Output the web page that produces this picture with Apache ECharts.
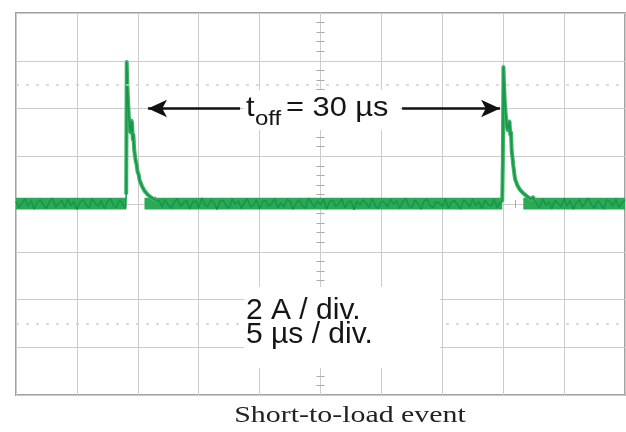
<!DOCTYPE html>
<html><head><meta charset="utf-8">
<script src="https://cdn.jsdelivr.net/npm/echarts@6/dist/echarts.min.js"></script>
<style>html,body{margin:0;padding:0;background:#fff}#c{width:626px;height:432px}</style>
</head><body><div id="c"></div>
<script>
// Time axis centred on the screen: 5 µs/div, 10 divisions
const timeRange = [-25, 25];
const timeDiv = 5;
// Current axis: 2 A/div, 8 divisions
const currentRange = [-8, 8];
const currentDiv = 2;
const sampleStep = 0.25;
// envelope of the baseline noise band (A)
const noiseLow = -0.23;
const noiseHigh = 0.26;
// level at which a spike's decay merges into the noise band (A)
const bandMergeLevel = 0.6;

// baseline noise before first pulse (A)
const base1Start = -25;
const base1 = [0.10,-0.16,0.05,0.21,-0.09,0.14,-0.22,0.07,0.18,-0.04,-0.19,0.11,0.24,-0.13,0.02,0.16,-0.15,0.20,-0.07,0.12,-0.23,0.06,0.19,-0.03,-0.17,0.22,0.04,-0.11,0.15,-0.20,0.09,0.23,-0.06,-0.14,0.17,0.01,-0.18];

// first current spike [µs, A]
const pulse1 = [[-15.95,0.4],[-15.91,5.95],[-15.86,5.0],[-15.80,4.3],[-15.73,3.6],[-15.66,3.2],[-15.59,3.0],[-15.53,3.5],[-15.47,3.4],[-15.41,2.7],[-15.36,2.9],[-15.30,2.3],[-15.24,2.05],[-15.17,1.8],[-15.10,1.65],[-15.02,1.35],[-14.94,1.25],[-14.85,1.0],[-14.76,0.95],[-14.66,0.75],[-14.56,0.72],[-14.45,0.55],[-14.33,0.58],[-14.20,0.40],[-14.07,0.46],[-13.93,0.28],[-13.78,0.36],[-13.62,0.18],[-13.46,0.26]];

// baseline noise between pulses (A)
const base2Start = -13.25;
const base2 = [0.14,-0.12,0.20,-0.05,-0.18,0.09,0.22,-0.10,0.03,0.17,
-0.21,0.08,0.13,-0.15,0.25,-0.02,-0.12,0.19,0.05,-0.23,
0.11,0.16,-0.08,-0.17,0.21,0.00,0.14,-0.19,0.07,0.23,
-0.11,-0.04,0.18,-0.20,0.10,0.15,-0.09,0.02,0.22,-0.16,
0.06,-0.13,0.19,0.12,-0.22,0.04,0.17,-0.07,-0.18,0.24,
0.08,-0.14,0.13,-0.03,0.20,-0.21,0.10,0.16,-0.10,0.01,
0.21,-0.17,0.07,0.14,-0.24,0.11,-0.05,0.18,0.03,-0.15,
0.23,-0.09,-0.19,0.12,0.06,-0.12,0.20,-0.01,0.15,-0.20,
0.09,0.24,-0.08,-0.14,0.17,0.02,-0.22,0.13,0.19,-0.06,
-0.16,0.10,0.05,-0.11,0.22,-0.18,0.08,0.15,-0.03,-0.21,
0.18,0.04,-0.13,0.21,-0.07,0.11,-0.19,0.16,0.00,-0.10,
0.20,-0.15,0.07];

// second current spike [µs, A]
const pulse2 = [[14.92,0.1],[14.97,1.8],[15.02,5.74],[15.07,5.0],[15.13,4.3],[15.20,3.8],[15.28,3.3],[15.36,3.1],[15.44,3.35],[15.52,3.45],[15.58,2.9],[15.64,3.0],[15.70,2.2],[15.76,1.95],[15.83,1.6],[15.90,1.55],[15.97,1.05],[16.05,1.1],[16.15,0.8],[16.25,0.85],[16.37,0.6],[16.50,0.62],[16.65,0.45],[16.80,0.5],[16.95,0.32],[17.10,0.38],[17.28,0.2],[17.45,0.28],[17.60,0.12]];

// baseline noise after second pulse (A)
const base3Start = 17.75;
const base3 = [0.12,-0.17,0.21,-0.06,0.09,-0.20,0.16,0.03,-0.12,0.23,
-0.09,0.14,-0.22,0.05,0.19,-0.14,0.08,0.24,-0.04,-0.18,
0.13,0.01,-0.21,0.17,0.10,-0.08,0.22,-0.15,0.06,0.15];

// dotted reference levels (A)
const markerLevels = [5, -5];
// t_off arrows: [tail µs, tip µs] at level (A)
const arrowLevel = 4;
const arrowLeft = [-6.6, -14.16];
const arrowRight = [6.7, 14.74];

const labelToff = {t: 't', sub: 'off', rest: '= 30 µs'};
const scaleLines = ['2 A / div.', '5 µs / div.'];
const caption = 'Short-to-load event';

function seg(start, vals) { return vals.map((v, i) => [start + i * sampleStep, v]); }
const s1 = seg(base1Start, base1), s2 = seg(base2Start, base2), s3 = seg(base3Start, base3);
const trace = [].concat(s1, pulse1, s2, pulse2, s3);
// spikes alone, for a slightly thicker under-stroke
const spikes = [].concat(pulse1, [[0, null]], pulse2);
function mergeTime(p) {
  const peak = p.reduce((b, d, i) => d[1] > p[b][1] ? i : b, 0);
  for (let i = peak; i < p.length; i++) if (p[i][1] < bandMergeLevel) return p[i][0];
  return p[p.length - 1][0];
}
// noise band regions follow the baseline segments
const bandAreas = [
  [s1[0][0], pulse1[0][0]],
  [mergeTime(pulse1), pulse2[0][0]],
  [mergeTime(pulse2), s3[s3.length - 1][0]]
].map(r => [{xAxis: r[0], yAxis: noiseLow}, {xAxis: r[1], yAxis: noiseHigh}]);

const gridCol = '#cccccc';
const tickCol = '#a9a9a9';
function xAx(pos, split) {
  return {type: 'value', min: timeRange[0], max: timeRange[1], interval: timeDiv, position: pos,
    axisLabel: {show: false},
    axisLine: {show: true, onZero: true, lineStyle: {color: gridCol, width: 1}},
    axisTick: {show: false},
    minorTick: {show: true, splitNumber: 5, length: 4, lineStyle: {color: tickCol, width: 1}},
    splitLine: {show: split, lineStyle: {color: gridCol, width: 1}},
    minorSplitLine: {show: false}};
}
function yAx(pos, split) {
  return {type: 'value', min: currentRange[0], max: currentRange[1], interval: currentDiv, position: pos,
    axisLabel: {show: false},
    axisLine: {show: true, onZero: true, lineStyle: {color: gridCol, width: 1}},
    axisTick: {show: false},
    minorTick: {show: true, splitNumber: 5, length: 4, lineStyle: {color: tickCol, width: 1}},
    splitLine: {show: split, lineStyle: {color: gridCol, width: 1}},
    minorSplitLine: {show: false}};
}

const chart = echarts.init(document.getElementById('c'), null, {renderer: 'canvas'});
const txtFont = '"Liberation Sans", Arial, sans-serif';
const txtCol = '#151515';
const lineBase = {type: 'line', symbol: 'none', showSymbol: false, sampling: null, connectNulls: false, silent: true};
chart.setOption({
  animation: false,
  backgroundColor: '#ffffff',
  grid: {left: 16, top: 13, right: 1, bottom: 37, show: true, borderColor: '#a2a2a2', borderWidth: 2, backgroundColor: '#ffffff'},
  xAxis: [xAx('bottom', true), xAx('top', false)],
  yAxis: [yAx('left', true), yAx('right', false)],
  series: [
    Object.assign({}, lineBase, {name: 'spikes', data: spikes, z: 2, lineStyle: {color: '#3bb466', width: 4, join: 'round'}}),
    Object.assign({}, lineBase, {
      name: 'current', data: trace, z: 3,
      lineStyle: {color: '#17954a', width: 1.5},
      markArea: {silent: true, itemStyle: {color: '#2aa957', opacity: 1}, label: {show: false}, data: bandAreas},
      markLine: {
        silent: true, animation: false, symbol: 'none', label: {show: false},
        data: [
          ...markerLevels.map(v => ({yAxis: v, symbol: 'none', lineStyle: {type: [3, 7], color: '#cfcfcf', width: 1.5}})),
          [{coord: [arrowLeft[0], arrowLevel], symbol: 'none', lineStyle: {color: '#111', width: 2.5, type: 'solid'}},
           {coord: [arrowLeft[1], arrowLevel], symbol: 'arrow', symbolSize: [13, 19]}],
          [{coord: [arrowRight[0], arrowLevel], symbol: 'none', lineStyle: {color: '#111', width: 2.5, type: 'solid'}},
           {coord: [arrowRight[1], arrowLevel], symbol: 'arrow', symbolSize: [13, 19]}]
        ]
      }
    })
  ],
  graphic: [
    {type: 'rect', z: 100, shape: {x: 244, y: 90, width: 156, height: 40}, style: {fill: '#fff'}},
    {type: 'rect', z: 100, shape: {x: 244, y: 287, width: 196, height: 81}, style: {fill: '#fff'}},
    {type: 'text', z: 101, x: 246, y: 108, scaleX: 1.1, style: {text: labelToff.t, font: '28px ' + txtFont, fill: txtCol, textAlign: 'left', textVerticalAlign: 'middle'}},
    {type: 'text', z: 101, x: 255, y: 119, scaleX: 1.2, style: {text: labelToff.sub, font: '20px ' + txtFont, fill: txtCol, textAlign: 'left', textVerticalAlign: 'middle'}},
    {type: 'text', z: 101, x: 286, y: 108, scaleX: 1.1, style: {text: labelToff.rest, font: '28px ' + txtFont, fill: txtCol, textAlign: 'left', textVerticalAlign: 'middle'}},
    {type: 'text', z: 101, x: 246, y: 311, style: {text: scaleLines[0], font: '30px ' + txtFont, fill: txtCol, textAlign: 'left', textVerticalAlign: 'middle'}},
    {type: 'text', z: 101, x: 246, y: 335, style: {text: scaleLines[1], font: '30px ' + txtFont, fill: txtCol, textAlign: 'left', textVerticalAlign: 'middle'}},
    {type: 'text', z: 101, x: 350, y: 416, scaleX: 1.3, style: {text: caption, font: '23px "Liberation Serif", "Times New Roman", serif', fill: '#222', textAlign: 'center', textVerticalAlign: 'middle'}}
  ]
});
</script></body></html>
